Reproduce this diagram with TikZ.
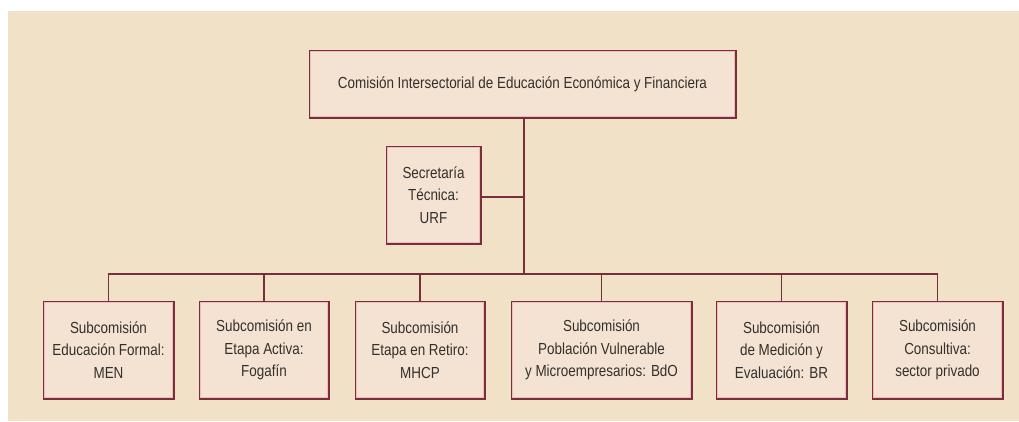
\documentclass[tikz,border=0pt]{standalone}
\usepackage{fontspec}
\setmainfont[FakeStretch=0.84]{Liberation Sans}
\definecolor{bg}{HTML}{F1E2C7}
\definecolor{boxfill}{HTML}{F4E3D2}
\definecolor{maroon}{HTML}{7A2D3C}
\definecolor{glow}{HTML}{F0BDBD}
\definecolor{txt}{HTML}{33302C}
\begin{document}
\begin{tikzpicture}[x=1pt,y=-1pt,
  orgbox/.style={rectangle, fill=boxfill, draw=maroon, line width=1.5pt,
    postaction={draw=glow, line width=1.2pt, shift={(0,0)}},
    align=center, text=txt, font=\fontsize{16}{22.5}\selectfont,
    minimum height=96pt, inner sep=0pt},
  link/.style={draw=maroon, line width=1.6pt}]
\useasboundingbox (0,0) rectangle (1019,421);
\fill[white] (0,0) rectangle (1019,421);
\fill[bg] (8,11) rectangle (1019,421);
\node[orgbox, minimum width=425pt, minimum height=66pt] (top) at (522.5,84)
  {Comisión Intersectorial de Educación Económica y Financiera};
\node[orgbox, minimum width=93pt] (sec) at (433.5,195)
  {Secretaría\\Técnica:\\URF};
\node[orgbox, minimum width=129pt] (b1) at (108.5,350)
  {Subcomisión\\Educación Formal:\\MEN};
\node[orgbox, minimum width=128pt] (b2) at (264,350)
  {Subcomisión en\\Etapa Activa:\\Fogafín};
\node[orgbox, minimum width=128pt] (b3) at (420,350)
  {Subcomisión\\Etapa en Retiro:\\MHCP};
\node[orgbox, minimum width=179pt] (b4) at (601.5,350)
  {Subcomisión\\Población Vulnerable\\y Microempresarios: BdO};
\node[orgbox, minimum width=129pt] (b5) at (781.5,350)
  {Subcomisión\\de Medición y\\Evaluación: BR};
\node[orgbox, minimum width=129pt] (b6) at (937.5,350)
  {Subcomisión\\Consultiva:\\sector privado};
\foreach \b in {top,sec,b1,b2,b3,b4,b5,b6}
  \draw[maroon, line width=1.5pt] (\b.south west) rectangle (\b.north east);
\coordinate (trunk) at (524,274);
\coordinate (junc) at (524,197);
\draw[link] (top.south -| trunk) -- (trunk);
\draw[link] (sec.east |- junc) -- (junc);
\draw[link] (b1.north) -- (b1.north |- trunk) -- (b6.north |- trunk) -- (b6.north);
\foreach \b in {b2,b3,b4,b5} \draw[link] (\b.north |- trunk) -- (\b.north);
\end{tikzpicture}
\end{document}
